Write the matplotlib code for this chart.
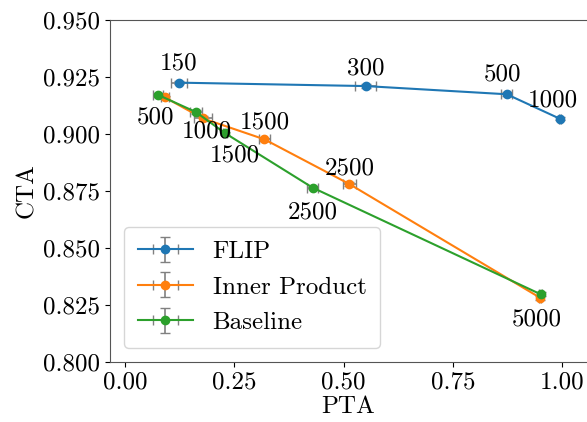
import matplotlib
matplotlib.use("Agg")
import matplotlib.pyplot as plt

plt.rcParams['font.family'] = 'cmr10'
plt.rcParams['mathtext.fontset'] = 'cm'
plt.rcParams['axes.formatter.use_mathtext'] = True
plt.rcParams['font.size'] = 18

# FLIP
flip_labels = ["150", "300", "500", "1000"]
flip_pta = [0.123, 0.550, 0.873, 0.994]
flip_cta = [0.9225, 0.9210, 0.9174, 0.9067]
flip_pta_err = [0.018, 0.024, 0.013, 0.002]
flip_cta_err = [0.0008, 0.0008, 0.0008, 0.0005]

# Inner Product
ip_labels = ["500", "1000", "1500", "2500", "5000"]
ip_pta = [0.0915, 0.178, 0.319, 0.513, 0.949]
ip_cta = [0.9160, 0.9068, 0.8976, 0.8780, 0.8281]
ip_pta_err = [0.010, 0.020, 0.013, 0.015, 0.003]
ip_cta_err = [0.0008, 0.0010, 0.0008, 0.0008, 0.0008]

# Baseline
bl_labels = ["500", "1000", "1500", "2500", "5000"]
bl_pta = [0.076, 0.162, 0.229, 0.429, 0.9505]
bl_cta = [0.9171, 0.9096, 0.9003, 0.8764, 0.8296]
bl_pta_err = [0.011, 0.014, 0.004, 0.013, 0.003]
bl_cta_err = [0.0008, 0.0010, 0.0006, 0.0008, 0.0008]

fig = plt.figure(figsize=(5.87, 4.22), dpi=100)
ax = fig.add_axes([0.1874, 0.1429, 0.8126, 0.8097])

eb = dict(fmt='-o', ecolor='gray', capsize=3.5, elinewidth=1.2, markersize=6, linewidth=1.5)
ax.errorbar(flip_pta, flip_cta, xerr=flip_pta_err, yerr=flip_cta_err, color='#1f77b4', label='FLIP', **eb)
ax.errorbar(ip_pta, ip_cta, xerr=ip_pta_err, yerr=ip_cta_err, color='#ff7f0e', label='Inner Product', **eb)
ax.errorbar(bl_pta, bl_cta, xerr=bl_pta_err, yerr=bl_cta_err, color='#2ca02c', label='Baseline', **eb)

# point labels
flip_off = [(0, 6), (0, 5), (-3, 6), (-5, 5)]
for lab, x, y, off in zip(flip_labels, flip_pta, flip_cta, flip_off):
    ax.annotate(lab, (x, y), xytext=off, textcoords='offset points', ha='center', va='bottom')

ip_off = {"1500": (0, 4), "2500": (0, 3), "5000": (-2, -8)}
for lab, x, y in zip(ip_labels, ip_pta, ip_cta):
    if lab in ip_off:
        va = 'bottom' if ip_off[lab][1] > 0 else 'top'
        ax.annotate(lab, (x, y), xytext=ip_off[lab], textcoords='offset points', ha='center', va=va)

bl_off = {"500": (-2, -8), "1000": (8, -6), "1500": (7, -8), "2500": (0, -10)}
for lab, x, y in zip(bl_labels, bl_pta, bl_cta):
    if lab in bl_off:
        ax.annotate(lab, (x, y), xytext=bl_off[lab], textcoords='offset points', ha='center', va='top')

ax.set_xlim(-0.0343, 1.0565)
ax.set_ylim(0.8, 0.95)
ax.set_xticks([0.0, 0.25, 0.5, 0.75, 1.0])
ax.set_yticks([0.8, 0.825, 0.85, 0.875, 0.9, 0.925, 0.95])
ax.set_xticklabels(["0.00", "0.25", "0.50", "0.75", "1.00"])
ax.set_yticklabels(["0.800", "0.825", "0.850", "0.875", "0.900", "0.925", "0.950"])
ax.set_xlabel('PTA', labelpad=2)
ax.set_ylabel('CTA', labelpad=4)
ax.spines['right'].set_visible(False)
for s in ax.spines.values():
    s.set_color('#555555')

ax.legend(loc='lower left', handlelength=2.2, borderaxespad=0.55, labelspacing=0.52,
          borderpad=0.55, handletextpad=0.8)

fig.savefig('out.png', dpi=100)
